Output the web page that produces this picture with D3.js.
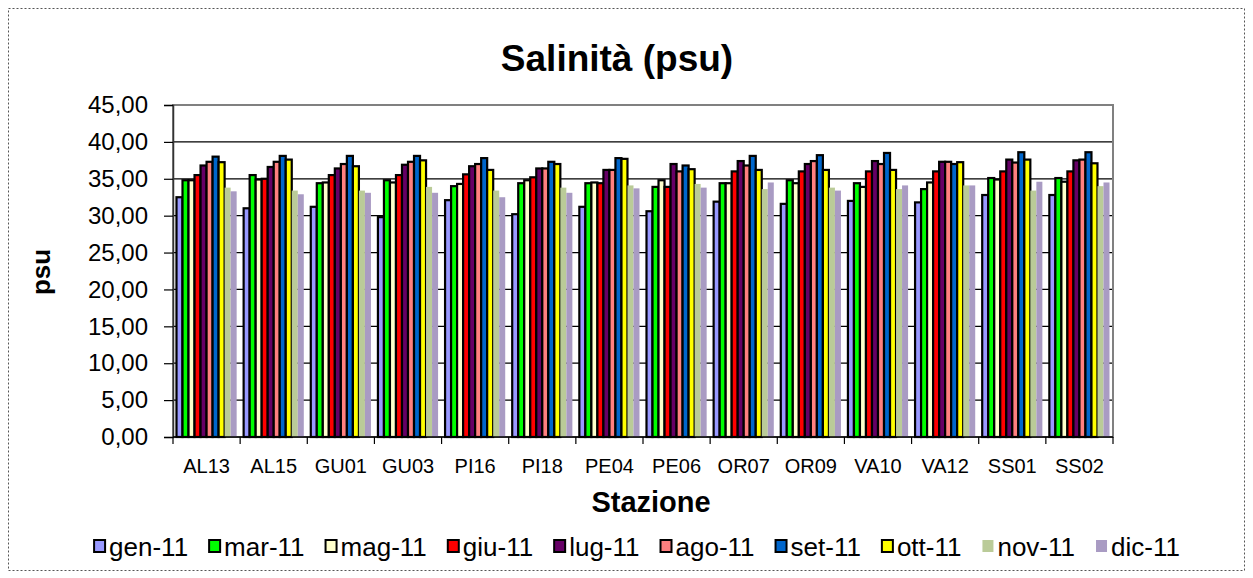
<!DOCTYPE html>
<html><head><meta charset="utf-8">
<script src="https://cdn.jsdelivr.net/npm/d3@7"></script>
<style>body{margin:0;background:#fff;} svg{display:block;font-family:Arial,"Liberation Sans",sans-serif;}</style>
</head><body>
<svg id="c" width="1253" height="578"></svg>
<script>
const categories = ["AL13","AL15","GU01","GU03","PI16","PI18","PE04","PE06","OR07","OR09","VA10","VA12","SS01","SS02"];
const seriesNames = ["gen-11","mar-11","mag-11","giu-11","lug-11","ago-11","set-11","ott-11","nov-11","dic-11"];
const gen11 = [32.5,31.0,31.2,29.8,32.1,30.2,31.2,30.6,31.9,31.6,32.0,31.8,32.8,32.8];
const mar11 = [34.8,35.5,34.4,34.8,34.0,34.4,34.4,33.9,34.4,34.8,34.4,33.6,35.1,35.1];
const mag11 = [34.8,34.9,34.5,34.5,34.3,34.8,34.5,34.8,34.4,34.4,33.9,34.5,34.9,34.6];
const giu11 = [35.5,35.0,35.5,35.5,35.6,35.2,34.4,33.9,36.0,36.0,36.0,36.0,36.0,36.0];
const lug11 = [36.8,36.6,36.4,36.9,36.7,36.4,36.2,37.0,37.4,37.0,37.4,37.3,37.6,37.5];
const ago11 = [37.3,37.3,37.0,37.3,37.0,36.4,36.2,36.0,36.8,37.4,37.0,37.3,37.2,37.6];
const set11 = [38.0,38.1,38.1,38.1,37.8,37.3,37.8,36.8,38.1,38.2,38.5,37.0,38.6,38.6];
const ott11 = [37.25,37.6,36.7,37.5,36.2,37.0,37.7,36.3,36.2,36.2,36.2,37.25,37.6,37.1];
const nov11 = [33.8,33.4,33.4,33.9,33.4,33.8,34.1,34.3,33.6,33.8,33.6,34.1,33.4,34.0];
const dic11 = [33.3,32.9,33.1,33.1,32.5,33.1,33.7,33.8,34.5,33.4,34.1,34.1,34.6,34.5];
const seriesValues = [gen11,mar11,mag11,giu11,lug11,ago11,set11,ott11,nov11,dic11];
const seriesColors = ["#9999FF","#00FF00","#FFFFCC","#FF0000","#660066","#FF8080","#0066CC","#FFFF00","#BACB98","#A99BC3"];
const seriesOutlined = [true,true,true,true,true,true,true,true,false,false];
const yTicks = [0,5,10,15,20,25,30,35,40,45];
const titleText = "Salinità (psu)";
const xTitle = "Stazione";
const yTitle = "psu";

const svg = d3.select("#c");
const L = 173, R = 1113, T = 105, B = 437;

svg.append("rect").attr("x",8.5).attr("y",8.5).attr("width",1236).attr("height",562)
  .attr("fill","none").attr("stroke","#555").attr("stroke-dasharray","2,2");

const x0 = d3.scaleBand().domain(categories).range([L,R]).paddingInner(0.104).paddingOuter(0.052);
const x1 = d3.scaleBand().domain(seriesNames).range([0,x0.bandwidth()]);
const y = d3.scaleLinear().domain([0,45]).range([B,T]);

// gridlines
svg.append("g").selectAll("line").data(yTicks.filter(t=>t>0 && t<45)).join("line")
  .attr("x1",L).attr("x2",R).attr("y1",d=>y(d)).attr("y2",d=>y(d))
  .attr("stroke","#000").attr("stroke-width",1.2);

// plot border
svg.append("rect").attr("x",L).attr("y",T).attr("width",R-L).attr("height",B-T)
  .attr("fill","none").attr("stroke","#808080").attr("stroke-width",2);

// bars
const data = [];
categories.forEach((c,i)=>seriesNames.forEach((s,j)=>data.push({c,s,j,v:seriesValues[j][i]})));
svg.append("g").selectAll("rect").data(data).join("rect")
  .attr("x",d=>x0(d.c)+x1(d.s)).attr("width",x1.bandwidth())
  .attr("y",d=>y(d.v)).attr("height",d=>y(0)-y(d.v))
  .attr("fill",d=>seriesColors[d.j])
  .attr("stroke",d=>seriesOutlined[d.j]?"#000":"none").attr("stroke-width",2.2);

// y axis
const yAxis = svg.append("g").attr("transform",`translate(${L},0)`)
  .call(d3.axisLeft(y).tickValues(yTicks).tickSize(9).tickPadding(16)
    .tickFormat(d=>d3.format(".2f")(d).replace(".",",")));
yAxis.select(".domain").attr("stroke","#333").attr("stroke-width",1.5);
yAxis.selectAll(".tick line").attr("stroke","#000").attr("stroke-width",1.2);
yAxis.selectAll("text").attr("font-size",24).attr("fill","#000").attr("font-family","Arial, 'Liberation Sans', sans-serif");

// x axis
const xAxisG = svg.append("g");
xAxisG.append("line").attr("x1",L).attr("x2",R).attr("y1",B).attr("y2",B).attr("stroke","#000").attr("stroke-width",1.5);
const step = x0.step();
xAxisG.selectAll("line.t").data(d3.range(categories.length+1)).join("line").attr("class","t")
  .attr("x1",i=>L+i*step).attr("x2",i=>L+i*step).attr("y1",B).attr("y2",B+7)
  .attr("stroke","#000").attr("stroke-width",1.2);
xAxisG.selectAll("text").data(categories).join("text")
  .attr("x",d=>x0(d)+x0.bandwidth()/2).attr("y",473).attr("text-anchor","middle")
  .attr("font-size",20).text(d=>d);

// titles
svg.append("text").attr("x",617).attr("y",71).attr("text-anchor","middle")
  .attr("font-size",37).attr("font-weight","bold").text(titleText);
svg.append("text").attr("x",651).attr("y",512).attr("text-anchor","middle")
  .attr("font-size",29).attr("font-weight","bold").text(xTitle);
svg.append("text").attr("transform","translate(50,272) rotate(-90)").attr("text-anchor","middle")
  .attr("font-size",26).attr("font-weight","bold").text(yTitle);

// legend
const lg = svg.append("g");
const items = lg.selectAll("g").data(seriesNames).join("g");
items.append("rect").attr("x",0).attr("y",-8).attr("width",11).attr("height",12)
  .attr("fill",(d,i)=>seriesColors[i])
  .attr("stroke",(d,i)=>seriesOutlined[i]?"#000":"none").attr("stroke-width",2);
items.append("text").attr("x",15).attr("y",8).attr("font-size",26).text(d=>d);
let xpos = 0; const gap = 21;
items.each(function(d,i){
  const w = 15 + this.querySelector("text").getComputedTextLength();
  this._x = xpos; xpos += w + gap;
});
const total = xpos - gap;
const startX = 637 - total/2;
items.attr("transform",function(){return `translate(${startX+this._x},548)`;});
</script>
</body></html>
